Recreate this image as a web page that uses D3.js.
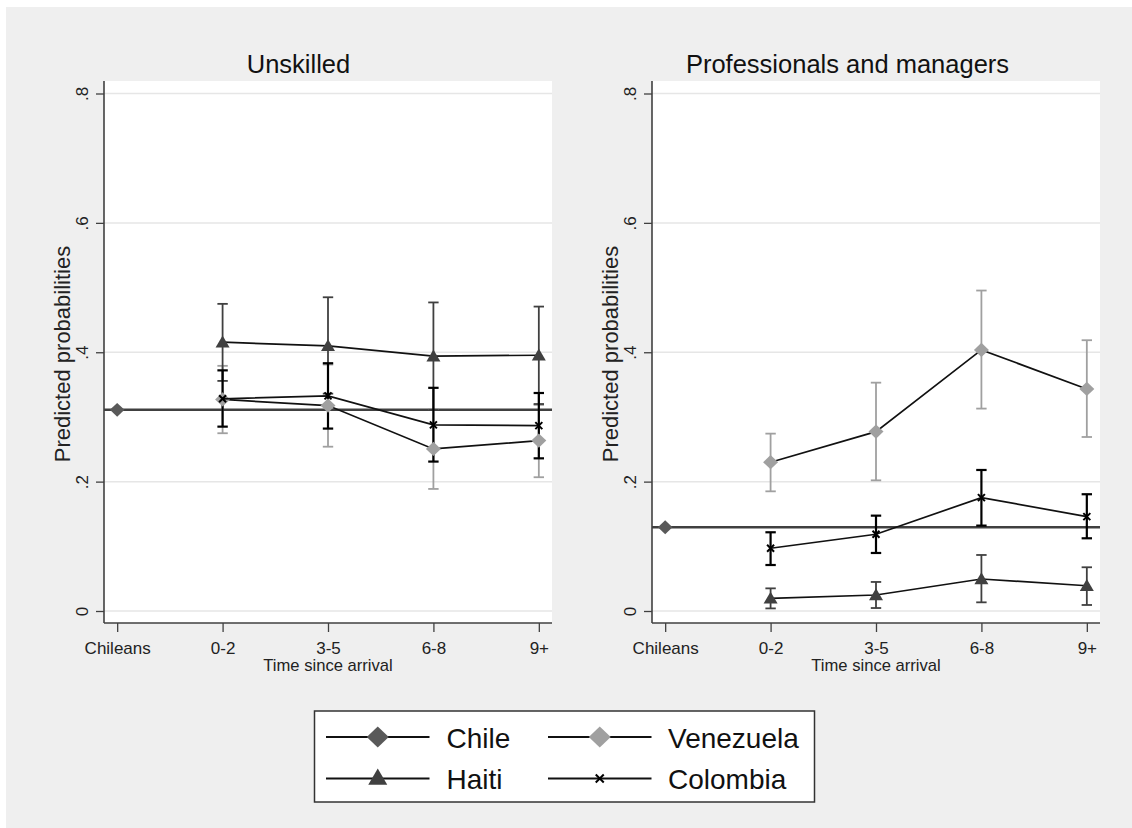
<!DOCTYPE html>
<html><head><meta charset="utf-8">
<script src="https://cdn.jsdelivr.net/npm/d3@7"></script>
<style>body{margin:0;background:#fff}svg{display:block}text{font-family:"Liberation Sans",Arial,sans-serif}</style>
</head><body><svg id="c" width="1132" height="828"></svg>
<script>
const categories = ["Chileans","0-2","3-5","6-8","9+"];
const yTicks = [0, 0.2, 0.4, 0.6, 0.8];
const yTickLabels = ["0", ".2", ".4", ".6", ".8"];
const panelTitles = ["Unskilled", "Professionals and managers"];

// Unskilled
const chileU = 0.311;
const haitiU = [0.4155, 0.410, 0.394, 0.3954];
const haitiU_lo = [0.3557, 0.336, 0.311, 0.320];
const haitiU_hi = [0.4748, 0.485, 0.477, 0.4706];
const venezuelaU = [0.327, 0.3176, 0.2505, 0.2634];
const venezuelaU_lo = [0.2748, 0.254, 0.1887, 0.2068];
const venezuelaU_hi = [0.379, 0.381, 0.312, 0.3186];
const colombiaU = [0.328, 0.3325, 0.2877, 0.2866];
const colombiaU_lo = [0.285, 0.282, 0.231, 0.236];
const colombiaU_hi = [0.372, 0.383, 0.345, 0.337];

// Professionals and managers
const chileP = 0.1294;
const haitiP = [0.0196, 0.0247, 0.0495, 0.039];
const haitiP_lo = [0.004, 0.0046, 0.0134, 0.0093];
const haitiP_hi = [0.035, 0.0449, 0.0866, 0.0676];
const venezuelaP = [0.230, 0.2773, 0.4036, 0.3433];
const venezuelaP_lo = [0.185, 0.202, 0.3129, 0.269];
const venezuelaP_hi = [0.2742, 0.353, 0.4954, 0.4186];
const colombiaP = [0.097, 0.1186, 0.1753, 0.1459];
const colombiaP_lo = [0.0711, 0.0897, 0.132, 0.1124];
const colombiaP_hi = [0.1217, 0.1474, 0.218, 0.1805];

const legendNames = ["Chile", "Venezuela", "Haiti", "Colombia"];

const COL = {chile:"#595959", venezuela:"#a0a0a0", haiti:"#404040", colombia:"#000000"};

const svg = d3.select("#c");
svg.append("rect").attr("x",6).attr("y",7).attr("width",1126).attr("height",821).attr("fill","#efefef");

const panels = [
  {x0:104, x1:552, titleX:298.5, yTitleX:62, chile:chileU,
   series:[
    {key:"venezuela", v:venezuelaU, lo:venezuelaU_lo, hi:venezuelaU_hi},
    {key:"haiti", v:haitiU, lo:haitiU_lo, hi:haitiU_hi},
    {key:"colombia", v:colombiaU, lo:colombiaU_lo, hi:colombiaU_hi}]},
  {x0:652, x1:1100, titleX:847.5, yTitleX:610, chile:chileP,
   series:[
    {key:"venezuela", v:venezuelaP, lo:venezuelaP_lo, hi:venezuelaP_hi},
    {key:"haiti", v:haitiP, lo:haitiP_lo, hi:haitiP_hi},
    {key:"colombia", v:colombiaP, lo:colombiaP_lo, hi:colombiaP_hi}]}
];

const plotTop = 81, plotBottom = 623;
const y = d3.scaleLinear().domain([0, 0.8]).range([611, 93.5]);

function marker(g, type, cx, cy, s) {
  if (type === "chile" || type === "venezuela") {
    g.append("path").attr("d", `M${cx},${cy-s*0.95}L${cx+s},${cy}L${cx},${cy+s*0.95}L${cx-s},${cy}Z`)
      .attr("fill", COL[type]);
  } else if (type === "haiti") {
    const h = s;
    g.append("path").attr("d", `M${cx},${cy-h*0.95}L${cx+h},${cy+h*0.75}L${cx-h},${cy+h*0.75}Z`)
      .attr("fill", COL.haiti);
  } else {
    const k = s*0.5;
    g.append("path").attr("d", `M${cx-k},${cy-k}L${cx+k},${cy+k}M${cx-k},${cy+k}L${cx+k},${cy-k}`)
      .attr("stroke", "#000").attr("stroke-width", 2).attr("fill","none");
  }
}

panels.forEach((p, pi) => {
  const x = d3.scaleLinear().domain([-0.125, 4.125]).range([p.x0, p.x1]);
  const g = svg.append("g");
  g.append("rect").attr("x", p.x0).attr("y", plotTop).attr("width", p.x1 - p.x0).attr("height", plotBottom - plotTop).attr("fill", "#fff");
  g.selectAll(".grid").data(yTicks).join("line")
    .attr("x1", p.x0).attr("x2", p.x1).attr("y1", d => y(d)).attr("y2", d => y(d))
    .attr("stroke", "#e6e6e6").attr("stroke-width", 1.5);
  const ax = g.append("g").attr("transform", `translate(${p.x0},0)`)
    .call(d3.axisLeft(y).tickValues(yTicks).tickSize(8).tickFormat((d,i) => yTickLabels[i]));
  ax.select(".domain").attr("d", `M0,${plotTop}V${plotBottom}`).attr("stroke", "#404040").attr("stroke-width", 1.6);
  ax.selectAll(".tick line").attr("stroke", "#404040").attr("stroke-width", 1.3);
  ax.selectAll(".tick text").attr("font-size", 17).attr("fill", "#222")
    .attr("x", null).attr("dy", null).attr("text-anchor", "middle")
    .attr("transform", "translate(-22,0) rotate(-90)").attr("dy", "0.35em");
  const bx = g.append("g").attr("transform", `translate(0,${plotBottom})`)
    .call(d3.axisBottom(x).tickValues([0,1,2,3,4]).tickSize(9).tickFormat(i => categories[i]));
  bx.select(".domain").attr("d", `M${p.x0},0H${p.x1}`).attr("stroke", "#404040").attr("stroke-width", 1.6);
  bx.selectAll(".tick line").attr("stroke", "#404040").attr("stroke-width", 1.3);
  bx.selectAll(".tick text").attr("font-size", 17).attr("fill", "#222").attr("y", 31).attr("dy", null);
  g.append("text").attr("x", (p.x0 + p.x1) / 2).attr("y", 671).attr("text-anchor", "middle")
    .attr("font-size", 16.6).attr("fill", "#222").text("Time since arrival");
  g.append("text").attr("transform", `translate(${p.yTitleX + 8},354) rotate(-90)`).attr("text-anchor", "middle")
    .attr("font-size", 22).attr("fill", "#222").text("Predicted probabilities");
  g.append("text").attr("x", p.titleX).attr("y", 72.5).attr("text-anchor", "middle")
    .attr("font-size", 25.5).attr("fill", "#111").text(panelTitles[pi]);

  g.append("line").attr("x1", p.x0).attr("x2", p.x1).attr("y1", y(p.chile)).attr("y2", y(p.chile))
    .attr("stroke", "#404040").attr("stroke-width", 2.6);
  marker(g, "chile", x(0), y(p.chile), 7.3);

  p.series.forEach(s => {
    const c = COL[s.key];
    const sw = s.key === "colombia" ? 2.2 : 1.8;
    s.v.forEach((v, i) => {
      const cx = x(i + 1);
      g.append("line").attr("x1", cx).attr("x2", cx).attr("y1", y(s.lo[i])).attr("y2", y(s.hi[i])).attr("stroke", c).attr("stroke-width", sw);
      [s.lo[i], s.hi[i]].forEach(e => g.append("line").attr("x1", cx - 5.2).attr("x2", cx + 5.2).attr("y1", y(e)).attr("y2", y(e)).attr("stroke", c).attr("stroke-width", sw));
    });
  });
  const line = d3.line().x((d, i) => x(i + 1)).y(d => y(d));
  p.series.forEach(s => {
    g.append("path").attr("d", line(s.v)).attr("fill", "none").attr("stroke", "#111").attr("stroke-width", 1.7);
    s.v.forEach((v, i) => marker(g, s.key, x(i + 1), y(v), s.key === "haiti" ? 7 : (s.key === "colombia" ? 7 : 7.5)));
  });
});

const lg = svg.append("g");
lg.append("rect").attr("x", 314.5).attr("y", 711).attr("width", 500).attr("height", 91)
  .attr("fill", "#fff").attr("stroke", "#333").attr("stroke-width", 1.5);
const legendItems = [
  {key:"chile", name:legendNames[0], col:0, row:0},
  {key:"venezuela", name:legendNames[1], col:1, row:0},
  {key:"haiti", name:legendNames[2], col:0, row:1},
  {key:"colombia", name:legendNames[3], col:1, row:1}
];
legendItems.forEach(it => {
  const lx0 = it.col === 0 ? 326 : 548, lx1 = lx0 + 103.5;
  const ly = it.row === 0 ? 737 : 778.5;
  lg.append("line").attr("x1", lx0).attr("x2", lx1).attr("y1", ly).attr("y2", ly).attr("stroke", "#111").attr("stroke-width", 2);
  const cx = (lx0 + lx1) / 2;
  if (it.key === "haiti") marker(lg, "haiti", cx, ly - 1, 9.5);
  else if (it.key === "colombia") marker(lg, "colombia", cx, ly, 8);
  else marker(lg, it.key, cx, ly, 11);
  lg.append("text").attr("x", it.col === 0 ? 446.5 : 668).attr("y", it.row === 0 ? 747.5 : 788.5)
    .attr("font-size", 28).attr("fill", "#111").text(it.name);
});
</script></body></html>
